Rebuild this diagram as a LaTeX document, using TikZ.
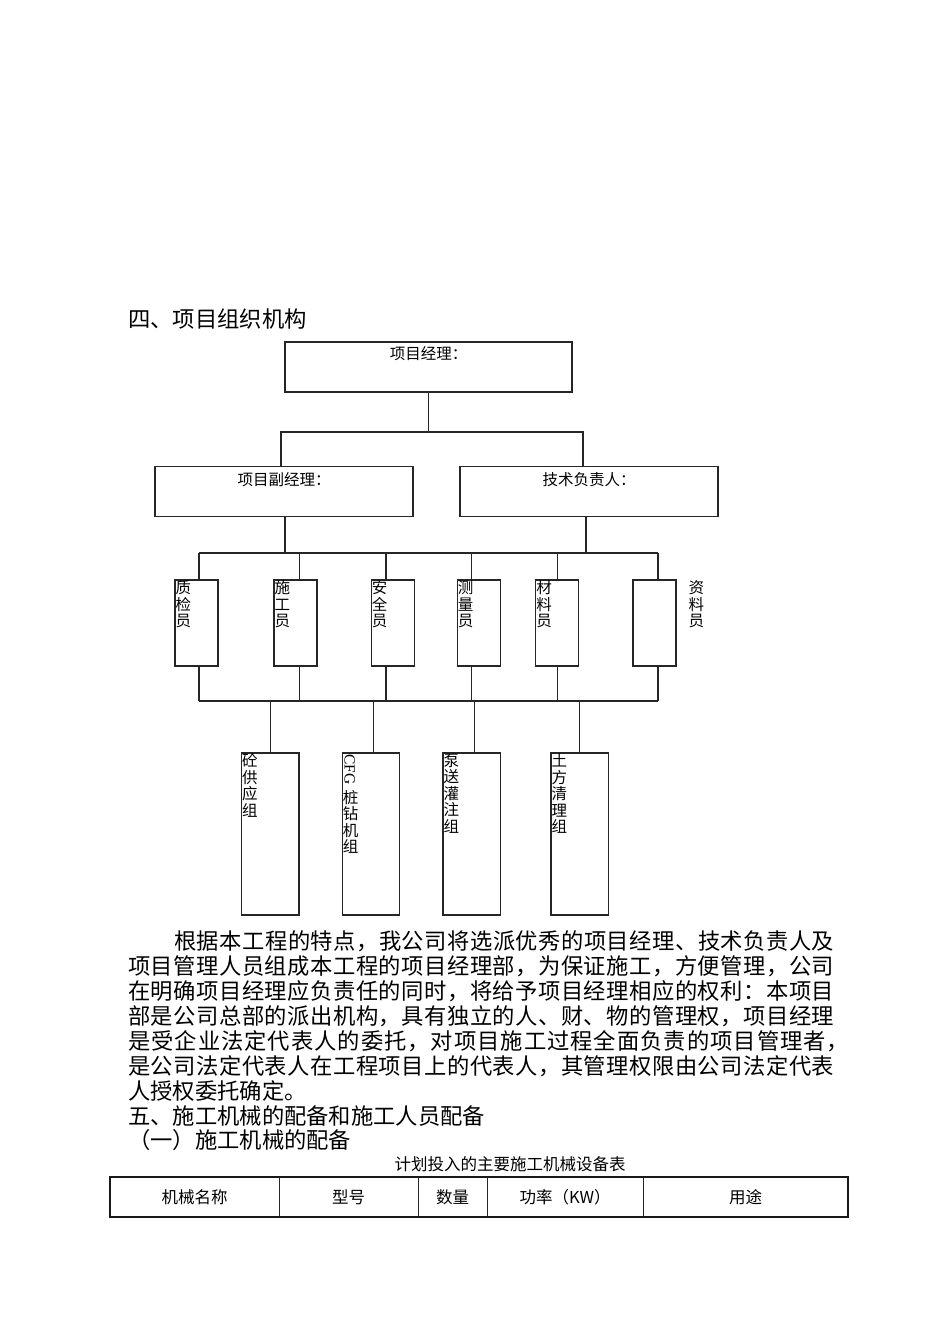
\documentclass[tikz,border=0pt]{standalone}
\usepackage{fontspec}
\setmainfont{Noto Sans CJK SC}
\newfontfamily\latinserif{Liberation Serif}
\def\sprd#1{\ifx\relax#1\else#1\hskip0pt plus 1fil\expandafter\sprd\fi}
\newcommand\jl[2]{\makebox[#1][s]{\sprd#2\relax\unskip}}
\begin{document}
\begin{tikzpicture}[x=1pt,y=-1pt,
  ln/.style={draw=black!85,line width=1.25pt},
  bx/.style={ln,inner sep=0pt,outer sep=0pt},
  wide/.style={bx,minimum width=#1,minimum height=49.5pt},
  small/.style={bx,minimum width=43pt,minimum height=86pt},
  tall/.style={bx,minimum width=57.5pt,minimum height=162pt},
  lab/.style={inner sep=0pt,font=\fontsize{15.5}{17}\selectfont},
  vt/.style={inner sep=0pt,align=left,anchor=north west,font=\fontsize{15.5}{16.5}\selectfont},
  para/.style={inner sep=0pt,anchor=west,font=\fontsize{22.3}{25}\selectfont},
  captext/.style={inner sep=0pt,font=\fontsize{16.5}{18}\selectfont},
  cell/.style={inner sep=0pt,font=\fontsize{16.5}{18}\selectfont}
]
\useasboundingbox (0,0) rectangle (950,1344);
\fill[white] (0,0) rectangle (950,1344);

% heading
\node[para] (h4) at (128,319) {四、项目组织机构};

% top level
\node[wide=287pt,minimum height=50pt] (pm) at (428.5,367) {};
\node[lab,anchor=north] (pmt) at ([yshift=-4pt]pm.north) {项目经理：};

\node[wide=258pt] (dpm) at (284,491.5) {};
\node[lab,anchor=north] (dpmt) at ([yshift=-5.5pt]dpm.north) {项目副经理：};
\node[wide=258pt] (tech) at (589,491.5) {};
\node[lab,anchor=north] (techt) at ([yshift=-5.5pt]tech.north) {技术负责人：};

\coordinate (j1) at (428.5,432);
\draw[ln] (pm.south) -- (j1);
\draw[ln] ([xshift=-3pt]dpm.north) |- (j1) -| ([xshift=-6pt]tech.north);

% second bus
\coordinate (j2l) at (199,553);
\coordinate (j2r) at (658,553);
\draw[ln] ([xshift=1pt]dpm.south) -- ([xshift=1pt]dpm.south |- j2l);
\draw[ln] ([xshift=-3pt]tech.south) -- ([xshift=-3pt]tech.south |- j2l);
\draw[ln] (j2l) -- (j2r);

% staff boxes
\node[small] (q1) at (196.5,623) {};
\node[small] (q2) at (295.5,623) {};
\node[small] (q3) at (392.75,623) {};
\node[small] (q4) at (478.75,623) {};
\node[small] (q5) at (557.25,623) {};
\node[small] (q6) at (654.5,623) {};

\node[vt] (q1t) at ([xshift=0.5pt,yshift=-0.6pt]q1.north west) {质\\检\\员};
\node[vt] (q2t) at ([xshift=0.5pt,yshift=-0.6pt]q2.north west) {施\\工\\员};
\node[vt] (q3t) at ([xshift=0.5pt,yshift=-0.6pt]q3.north west) {安\\全\\员};
\node[vt] (q4t) at ([xshift=0.5pt,yshift=-0.6pt]q4.north west) {测\\量\\员};
\node[vt] (q5t) at ([xshift=0.5pt,yshift=-0.6pt]q5.north west) {材\\料\\员};
\node[vt] (q6t) at (688.5,580.5) {资\\料\\员};

% third bus
\coordinate (j3l) at (199,701);
\coordinate (j3r) at (658,701);
\draw[ln] (j3l) -- (j3r);
\foreach \n/\dx in {q1/2.5,q2/4,q3/-6.75,q4/-7,q5/0.6,q6/3.5}{
  \draw[ln] ([xshift=\dx pt]\n.north) -- ([xshift=\dx pt]\n.north |- j2l);
  \draw[ln] ([xshift=\dx pt]\n.south) -- ([xshift=\dx pt]\n.south |- j3l);
}

% group boxes
\node[tall] (g1) at (270.25,834) {};
\node[tall] (g2) at (371,834) {};
\node[tall] (g3) at (471.75,834) {};
\node[tall] (g4) at (579.75,834) {};
\foreach \n/\dx in {g1/0,g2/2.7,g3/2.5,g4/-0.4}{
  \draw[ln] ([xshift=\dx pt]\n.north) -- ([xshift=\dx pt]\n.north |- j3l);
}

\node[vt] (g1t) at ([xshift=0.5pt,yshift=-0.6pt]g1.north west) {砼\\供\\应\\组};
\node[inner sep=0pt,rotate=-90,anchor=south west,font=\latinserif\fontsize{15.5}{16}\selectfont] (g2c) at ([xshift=2pt,yshift=-1pt]g2.north west) {CFG};
\node[vt] (g2t) at ([xshift=0.5pt,yshift=-37pt]g2.north west) {桩\\钻\\机\\组};
\node[vt] (g3t) at ([xshift=0.5pt,yshift=-0.6pt]g3.north west) {泵\\送\\灌\\注\\组};
\node[vt] (g4t) at ([xshift=0.5pt,yshift=-0.6pt]g4.north west) {土\\方\\清\\理\\组};

% paragraph
\node[para] (p1) at (174,941) {\jl{660pt}{根据本工程的特点，我公司将选派优秀的项目经理、技术负责人及}};
\node[para] (p2) at (128,966) {\jl{706pt}{项目管理人员组成本工程的项目经理部，为保证施工，方便管理，公司}};
\node[para] (p3) at (128,991) {\jl{706pt}{在明确项目经理应负责任的同时，将给予项目经理相应的权利：本项目}};
\node[para] (p4) at (128,1016) {\jl{706pt}{部是公司总部的派出机构，具有独立的人、财、物的管理权，项目经理}};
\node[para] (p5) at (128,1041) {\jl{721pt}{是受企业法定代表人的委托，对项目施工过程全面负责的项目管理者，}};
\node[para] (p6) at (128,1066) {\jl{706pt}{是公司法定代表人在工程项目上的代表人，其管理权限由公司法定代表}};
\node[para] (p7) at (128,1091) {人授权委托确定。};
\node[para] (p8) at (128,1116) {五、施工机械的配备和施工人员配备};
\node[para] (p9) at (128,1140) {（一）施工机械的配备};

% table
\node[captext] (tcap) at (510,1164) {计划投入的主要施工机械设备表};
\draw[draw=black!85,line width=1pt] (279,1177) -- (279,1217) (418,1177) -- (418,1217) (487,1177) -- (487,1217) (643,1177) -- (643,1217);
\draw[draw=black!90,line width=2.4pt] (110,1177) rectangle (848,1217);
\node[cell] (c1) at (194.5,1197) {机械名称};
\node[cell] (c2) at (348.5,1197) {型号};
\node[cell] (c3) at (452.5,1197) {数量};
\node[cell] (c4) at (565,1197) {功率（KW）};
\node[cell] (c5) at (745.5,1197) {用途};
\end{tikzpicture}
\end{document}
